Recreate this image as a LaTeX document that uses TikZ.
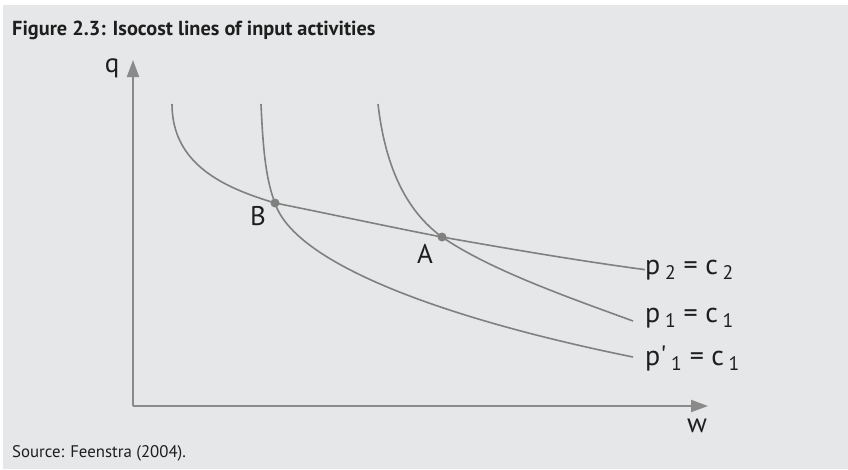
\documentclass[tikz,border=0pt]{standalone}
\usepackage{fontspec}
\setmainfont{PT Sans}
\usepackage{xcolor}
\usepackage{tikz}
\usetikzlibrary{arrows.meta, positioning, calc}

\definecolor{panel}{HTML}{E6E7E8}
\definecolor{curvegray}{HTML}{808080}
\definecolor{axisgray}{HTML}{8A8A8A}
\definecolor{inkgray}{HTML}{1E1E1E}

\begin{document}
\begin{tikzpicture}[
  x=1pt, y=-1pt,
  axis/.style={draw=axisgray, line width=2pt, -{Triangle[length=17pt,width=12pt]}},
  iso/.style={draw=curvegray, line width=1.6pt},
  pt/.style={circle, fill=curvegray, inner sep=0pt, minimum size=9pt},
  lbl/.style={font=\fontsize{27}{32}\selectfont, text=inkgray, inner sep=0pt},
  eq/.style={font=\fontsize{28}{33}\selectfont, text=inkgray, inner sep=0pt, anchor=base west},
]
%% ---- Frame ----
\useasboundingbox (0,0) rectangle (848,469);
\fill[white] (0,0) rectangle (848,469);
\fill[panel] (3,5) rectangle (848,469);

%% ---- Title and source ----
\node[anchor=base west, inner sep=0pt, text=inkgray,
      font=\fontsize{20.3}{24}\selectfont\bfseries] (title) at (12,35)
  {Figure 2.3: Isocost lines of input activities};
\node[anchor=base west, inner sep=0pt, text=inkgray,
      font=\fontsize{16.8}{20}\selectfont] (src) at (12,457)
  {Source: Feenstra (2004).};

%% ---- Axes ----
\coordinate (O)  at (133,406);
\coordinate (qt) at (133,60);
\coordinate (wt) at (708,406);
\draw[axis] (O) -- (qt);
\draw[axis] (O) -- (wt);
\node[lbl, anchor=base] (q) at (112,72) {q};
\node[lbl, anchor=base] (w) at (697,432) {w};

%% ---- Intersections ----
\coordinate (B) at (275,203);
\coordinate (A) at (442,237);

%% ---- Curve labels ----
\node[eq] (l2)  at (645,274) {p\,\textsubscript{2} = c\,\textsubscript{2}};
\node[eq] (l1)  at (645,322) {p\,\textsubscript{1} = c\,\textsubscript{1}};
\node[eq] (l1p) at (645,365) {p\textquotesingle\,\textsubscript{1} = c\,\textsubscript{1}};
\coordinate (e1)  at (633,321);
\coordinate (e1p) at (633,357);

%% ---- Curves ----
% p2 = c2 : through B and A
\draw[iso] (172,104) .. controls (172,165) and (225,188) .. (B)
           .. controls (330,214) and (390,227) .. (A)
           .. controls (510,249) and (580,261) .. (l2.west);
% p'1 = c1 : through B
\draw[iso] (261,104) .. controls (263,150) and (266,180) .. (B)
           .. controls (295,265) and (450,320) .. (e1p);
% p1 = c1 : through A
\draw[iso] (378,104) .. controls (385,165) and (405,210) .. (A)
           .. controls (490,270) and (570,298) .. (e1);

%% ---- Points ----
\node[pt] (pB) at (B) {};
\node[pt] (pA) at (A) {};
\node[lbl, anchor=base] (nB) at (258,225) {B};
\node[lbl, anchor=base] (nA) at (425,263) {A};
\end{tikzpicture}
\end{document}
